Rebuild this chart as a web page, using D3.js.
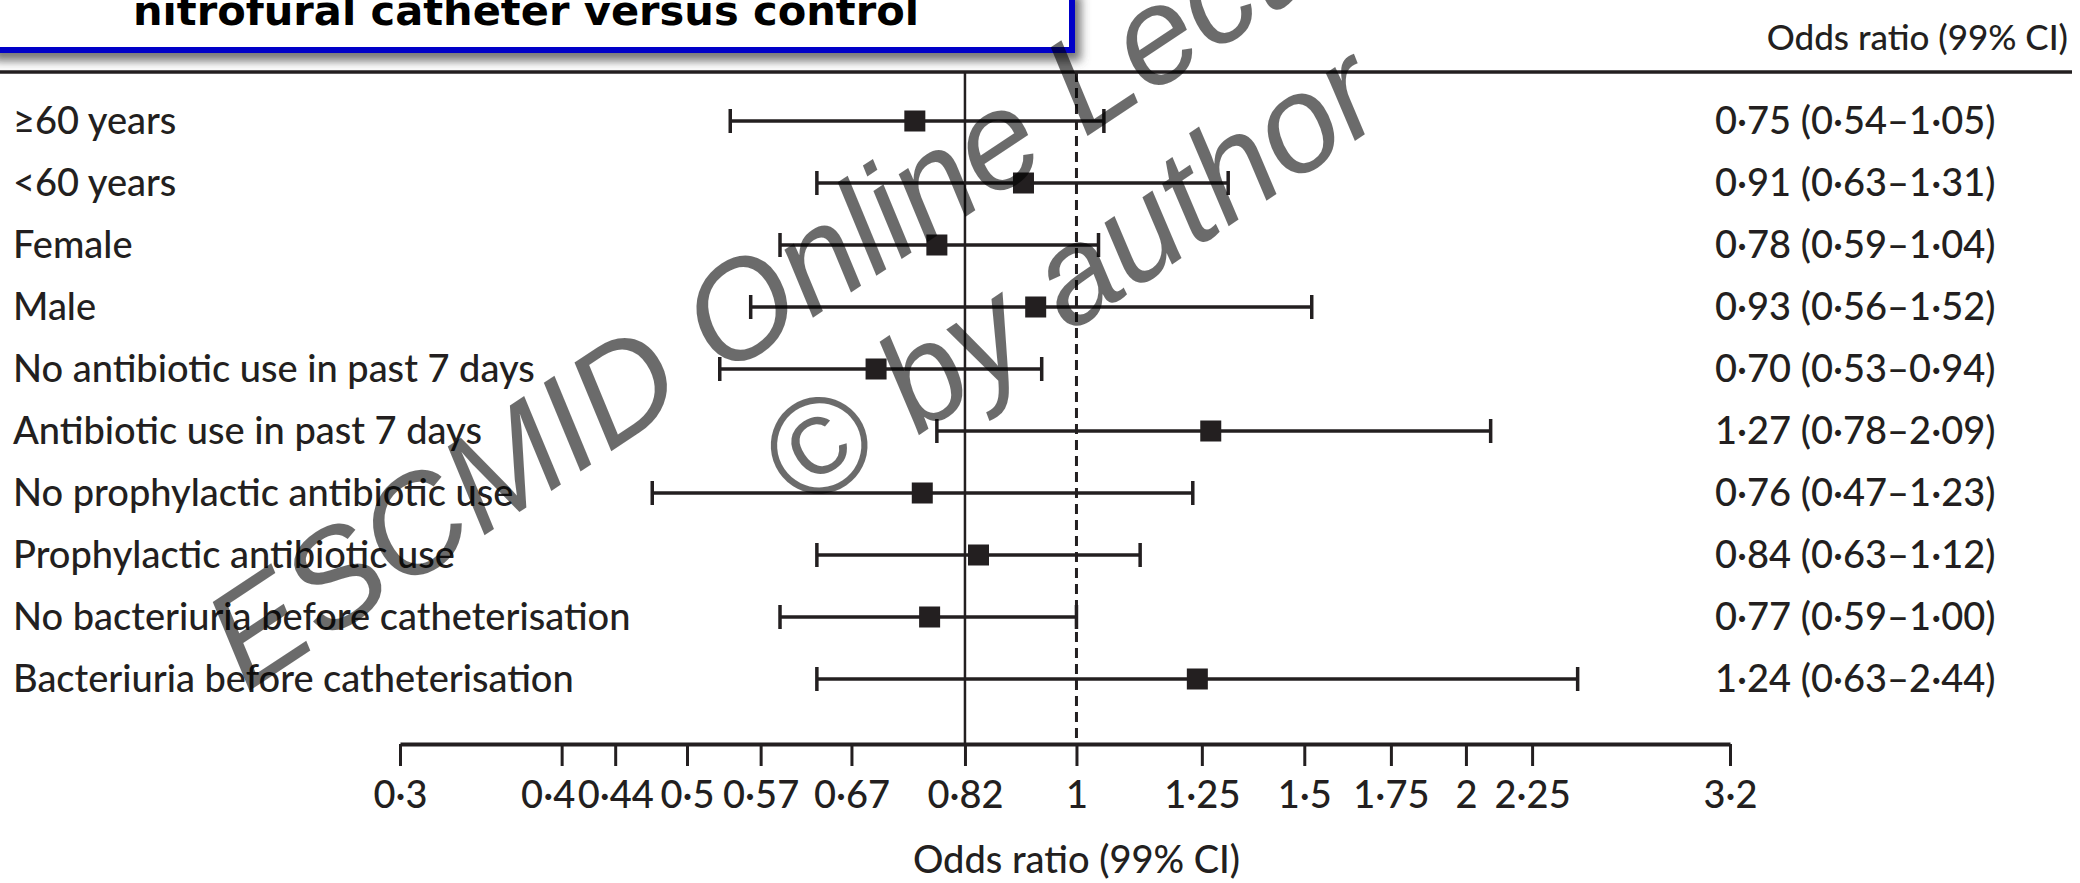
<!DOCTYPE html>
<html>
<head>
<meta charset="utf-8">
<script src="https://cdn.jsdelivr.net/npm/d3@7"></script>
<style>
  html, body { margin: 0; padding: 0; background: #fff; }
  svg { display: block; }
</style>
</head>
<body>
<div id="chart"></div>
<script>
const width = 2080;
const height = 883;

// subgroups, top to bottom
const groups = [
  "≥60 years",
  "<60 years",
  "Female",
  "Male",
  "No antibiotic use in past 7 days",
  "Antibiotic use in past 7 days",
  "No prophylactic antibiotic use",
  "Prophylactic antibiotic use",
  "No bacteriuria before catheterisation",
  "Bacteriuria before catheterisation"
];
const oddsRatio = [0.75, 0.91, 0.78, 0.93, 0.70, 1.27, 0.76, 0.84, 0.77, 1.24];
const ciLow     = [0.54, 0.63, 0.59, 0.56, 0.53, 0.78, 0.47, 0.63, 0.59, 0.63];
const ciHigh    = [1.05, 1.31, 1.04, 1.52, 0.94, 2.09, 1.23, 1.12, 1.00, 2.44];

const tickValues = [0.3, 0.4, 0.44, 0.5, 0.57, 0.67, 0.82, 1, 1.25, 1.5, 1.75, 2, 2.25, 3.2];
const overallOR = 0.82;   // solid reference line
const nullOR = 1;         // dashed line

const titleText = "nitrofural catheter versus control";
const axisTitle = "Odds ratio (99% CI)";
const watermark = ["ESCMID Online Lecture Library", "© by author"];

const ink = "#231f20";
const font = "Lato, 'Open Sans', sans-serif";

// Lancet style decimals
const dot = s => String(s).replace(".", "·");
const f2 = v => dot(d3.format(".2f")(v));

const rows = groups.map((g, i) => ({
  label: g, or: oddsRatio[i], lo: ciLow[i], hi: ciHigh[i]
}));

const svg = d3.select("#chart")
  .append("svg")
  .attr("width", width)
  .attr("height", height);

const x = d3.scaleLog()
  .domain([0.3, 3.2])
  .range([400, 1730]);

const y = d3.scalePoint()
  .domain(groups)
  .range([121, 679]);

const ruleY = 72;
const axisY = 744;

// header rule + column title
svg.append("line")
  .attr("x1", 0).attr("x2", 2072)
  .attr("y1", ruleY).attr("y2", ruleY)
  .attr("stroke", ink)
  .attr("stroke-width", 3.5);

svg.append("text")
  .attr("x", 2068)
  .attr("y", 50)
  .attr("text-anchor", "end")
  .attr("font-family", font)
  .attr("font-weight", 500)
  .attr("font-size", 35)
  .attr("fill", ink)
  .text(axisTitle);

// reference lines
svg.append("line")
  .attr("x1", x(overallOR)).attr("x2", x(overallOR))
  .attr("y1", ruleY).attr("y2", axisY)
  .attr("stroke", ink)
  .attr("stroke-width", 2.5);

svg.append("line")
  .attr("x1", x(nullOR)).attr("x2", x(nullOR))
  .attr("y1", ruleY).attr("y2", axisY)
  .attr("stroke", ink)
  .attr("stroke-width", 3)
  .attr("stroke-dasharray", "10,6");

// row labels
svg.selectAll("text.label")
  .data(rows)
  .enter()
  .append("text")
  .attr("class", "label")
  .attr("x", 13)
  .attr("y", d => y(d.label) + 13)
  .attr("font-family", font)
  .attr("font-weight", 500)
  .attr("font-size", 38)
  .attr("fill", ink)
  .text(d => d.label);

// values column
svg.selectAll("text.value")
  .data(rows)
  .enter()
  .append("text")
  .attr("class", "value")
  .attr("x", 1715)
  .attr("y", d => y(d.label) + 13)
  .attr("font-family", font)
  .attr("font-weight", 500)
  .attr("font-size", 38)
  .attr("fill", ink)
  .text(d => `${f2(d.or)} (${f2(d.lo)}–${f2(d.hi)})`);

// CI whiskers
const ci = svg.selectAll("g.ci")
  .data(rows)
  .enter()
  .append("g")
  .attr("class", "ci")
  .attr("stroke", ink)
  .attr("stroke-width", 3.5);

ci.append("line")
  .attr("x1", d => x(d.lo)).attr("x2", d => x(d.hi))
  .attr("y1", d => y(d.label)).attr("y2", d => y(d.label));

ci.append("line")
  .attr("x1", d => x(d.lo)).attr("x2", d => x(d.lo))
  .attr("y1", d => y(d.label) - 12).attr("y2", d => y(d.label) + 12);

ci.append("line")
  .attr("x1", d => x(d.hi)).attr("x2", d => x(d.hi))
  .attr("y1", d => y(d.label) - 12).attr("y2", d => y(d.label) + 12);

// point estimates
const box = 21;
svg.selectAll("rect.or")
  .data(rows)
  .enter()
  .append("rect")
  .attr("class", "or")
  .attr("x", d => x(d.or) - box / 2)
  .attr("y", d => y(d.label) - box / 2)
  .attr("width", box)
  .attr("height", box)
  .attr("fill", ink);

// x axis
const axis = svg.append("g")
  .attr("transform", `translate(0,${axisY})`)
  .call(d3.axisBottom(x)
    .tickValues(tickValues)
    .tickFormat(dot)
    .tickSize(22)
    .tickSizeOuter(0)
    .tickPadding(15));

axis.select(".domain")
  .attr("stroke", ink)
  .attr("stroke-width", 4);
axis.selectAll(".tick line")
  .attr("stroke", ink)
  .attr("stroke-width", 3);
axis.selectAll(".tick text")
  .attr("font-family", font)
  .attr("font-weight", 500)
  .attr("font-size", 38)
  .attr("fill", ink)
  // 0·4 sits tight against 0·44, nudged left as in the print
  .attr("dx", d => d === 0.4 ? -14 : 0);

svg.append("text")
  .attr("x", x(nullOR))
  .attr("y", 873)
  .attr("text-anchor", "middle")
  .attr("font-family", font)
  .attr("font-weight", 500)
  .attr("font-size", 38)
  .attr("fill", ink)
  .text(axisTitle);

// slide title box with shadow
const defs = svg.append("defs");
const shadow = defs.append("filter")
  .attr("id", "shadow")
  .attr("x", "-5%").attr("y", "-50%")
  .attr("width", "115%").attr("height", "220%");
shadow.append("feDropShadow")
  .attr("dx", 6).attr("dy", 8)
  .attr("stdDeviation", 5)
  .attr("flood-color", "#555")
  .attr("flood-opacity", 0.8);

svg.append("rect")
  .attr("x", -10).attr("y", -10)
  .attr("width", 1082).attr("height", 60)
  .attr("fill", "#fff")
  .attr("stroke", "#0000c8")
  .attr("stroke-width", 6)
  .attr("filter", "url(#shadow)");

svg.append("text")
  .attr("x", 133)
  .attr("y", 25)
  .attr("font-family", "'Comic Sans MS', 'DejaVu Sans', sans-serif")
  .attr("font-weight", "bold")
  .attr("font-size", 40)
  .attr("textLength", 786)
  .attr("lengthAdjust", "spacingAndGlyphs")
  .attr("fill", "#000")
  .text(titleText);

// watermark
const wmAnchors = [[246, 693, -33.5], [802, 514, -34]];
svg.selectAll("text.wm")
  .data(watermark)
  .enter()
  .append("text")
  .attr("class", "wm")
  .attr("transform", (d, i) => `translate(${wmAnchors[i][0]},${wmAnchors[i][1]}) rotate(${wmAnchors[i][2]})`)
  .attr("font-family", "'Liberation Sans', Arial, sans-serif")
  .attr("font-style", "italic")
  .attr("font-size", 137)
  .attr("fill", "#000")
  .attr("fill-opacity", 0.58)
  .text(d => d);
</script>
</body>
</html>
